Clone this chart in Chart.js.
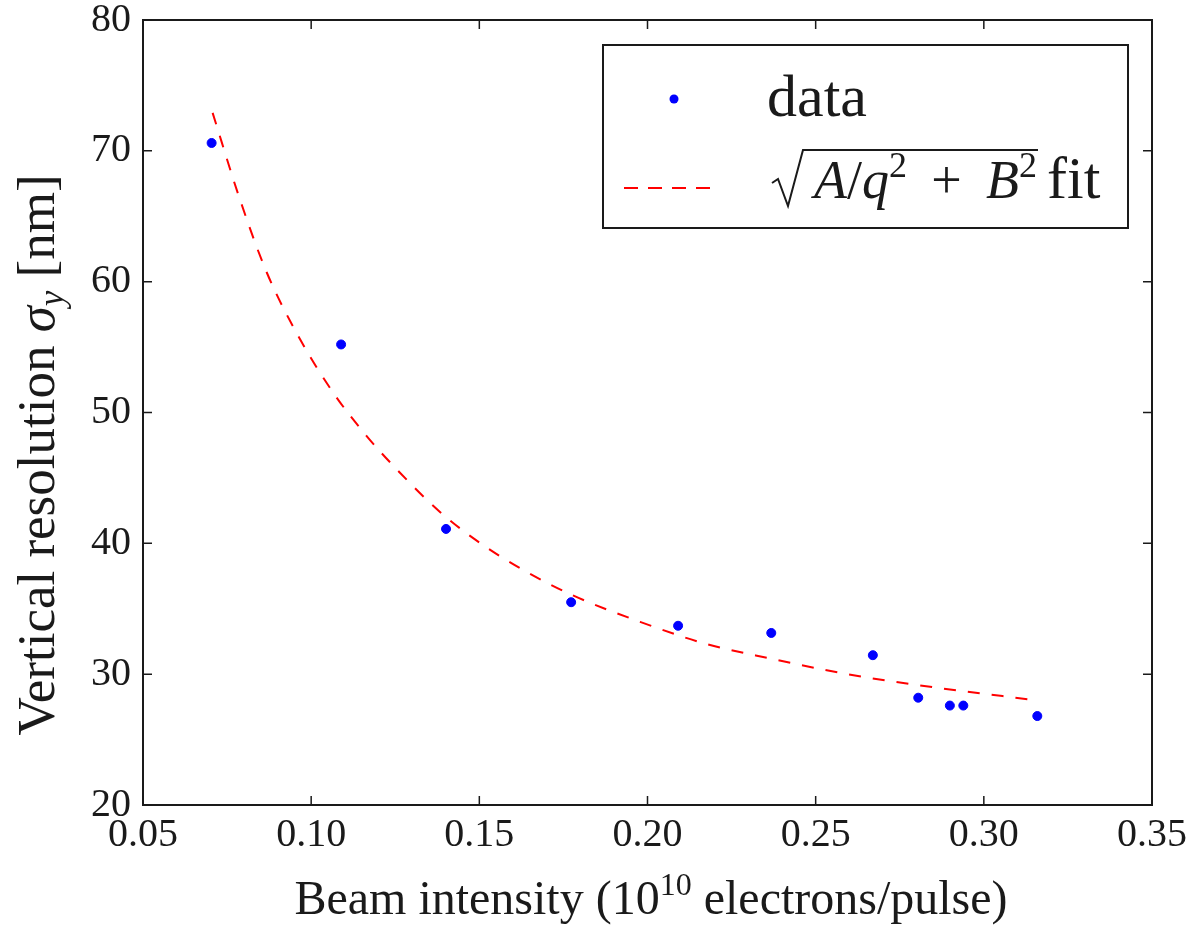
<!DOCTYPE html>
<html>
<head>
<meta charset="utf-8">
<script src="https://cdn.jsdelivr.net/npm/chart.js@4/dist/chart.umd.min.js"></script>
<style>
  body { margin: 0; background: #fff; }
  canvas { display: block; }
</style>
</head>
<body>
<canvas id="resChart" width="1187" height="927"></canvas>
<script>
const beamIntensity = [0.0704, 0.1089, 0.1401, 0.1773, 0.2091, 0.2368, 0.2670, 0.2805, 0.2899, 0.2939, 0.3159];
const resolution = [70.6, 55.2, 41.1, 35.5, 33.7, 33.15, 31.45, 28.2, 27.6, 27.6, 26.8];

// Fit curve sqrt(A/q^2 + B^2), sampled off the figure
const fitX = [0.0707, 0.0788, 0.0868, 0.0967, 0.1066, 0.1165, 0.1264, 0.1383, 0.1487, 0.1621, 0.1780, 0.1978, 0.2176, 0.2374, 0.2533, 0.2652, 0.2850, 0.3157];
const fitY = [72.9, 66.3, 60.7, 55.6, 51.5, 48.2, 45.4, 42.4, 40.3, 38.1, 36.0, 34.0, 32.3, 31.15, 30.3, 29.75, 29.0, 28.0];

const xTicks = [0.05, 0.10, 0.15, 0.20, 0.25, 0.30, 0.35];
const yTicks = [20, 30, 40, 50, 60, 70, 80];

const SERIF = '"Liberation Serif", "DejaVu Serif", serif';
const INK = "#1a1a1a";

// frame + inward ticks + axis titles + legend (math text needs manual drawing)
const decorPlugin = {
  id: "decor",
  afterDraw(chart) {
    const ctx = chart.ctx;
    const a = chart.chartArea;
    const xs = chart.scales.x, ys = chart.scales.y;
    ctx.save();

    ctx.strokeStyle = INK;
    ctx.lineWidth = 2;
    ctx.strokeRect(a.left, a.top, a.right - a.left, a.bottom - a.top);

    ctx.lineWidth = 1.5;
    ctx.beginPath();
    xTicks.forEach(v => {
      const px = xs.getPixelForValue(v);
      ctx.moveTo(px, a.bottom); ctx.lineTo(px, a.bottom - 9);
      ctx.moveTo(px, a.top); ctx.lineTo(px, a.top + 9);
    });
    yTicks.forEach(v => {
      const py = ys.getPixelForValue(v);
      ctx.moveTo(a.left, py); ctx.lineTo(a.left + 9, py);
      ctx.moveTo(a.right, py); ctx.lineTo(a.right - 9, py);
    });
    ctx.stroke();

    ctx.fillStyle = INK;
    ctx.textBaseline = "alphabetic";
    ctx.textAlign = "left";

    // x title: Beam intensity (10^10 electrons/pulse)
    drawRuns(ctx, [
      { t: "Beam intensity (10", s: 48 },
      { t: "10", s: 32, dy: -19 },
      { t: " electrons/pulse)", s: 48 }
    ], 651, 914, "center");

    // y title: Vertical resolution σ_y [nm]
    ctx.save();
    ctx.translate(54, 455);
    ctx.rotate(-Math.PI / 2);
    drawRuns(ctx, [
      { t: "Vertical resolution ", s: 53 },
      { t: "σ", s: 53, it: true },
      { t: "y", s: 35, it: true, dy: 9 },
      { t: " [nm]", s: 53 }
    ], 0, 0, "center");
    ctx.restore();

    // legend box
    ctx.fillStyle = "#fff";
    ctx.fillRect(603, 45, 525, 183);
    ctx.strokeStyle = INK;
    ctx.lineWidth = 2;
    ctx.strokeRect(603, 45, 525, 183);

    ctx.fillStyle = "#0000ff";
    ctx.beginPath();
    ctx.arc(674, 99, 4.5, 0, Math.PI * 2);
    ctx.fill();

    ctx.fillStyle = INK;
    ctx.font = "60px " + SERIF;
    ctx.fillText("data", 767, 116);

    ctx.strokeStyle = "#ff0000";
    ctx.lineWidth = 2;
    ctx.setLineDash([14, 10]);
    ctx.beginPath();
    ctx.moveTo(624, 188); ctx.lineTo(717, 188);
    ctx.stroke();
    ctx.setLineDash([]);

    // radical sign
    ctx.strokeStyle = INK;
    ctx.lineWidth = 2;
    ctx.beginPath();
    ctx.moveTo(772, 183);
    ctx.lineTo(778, 179);
    ctx.lineTo(788, 206);
    ctx.lineTo(803, 150);
    ctx.lineTo(1038, 150);
    ctx.stroke();

    drawRuns(ctx, [
      { t: "A", s: 54, it: true },
      { t: "/", s: 54 },
      { t: "q", s: 54, it: true },
      { t: "2", s: 36, dy: -21 },
      { t: "\u2009 + \u2009", s: 54 },
      { t: "B", s: 54, it: true },
      { t: "2", s: 36, dy: -21 }
    ], 814, 198, "left");
    ctx.font = "60px " + SERIF;
    ctx.fillText("fit", 1047, 198);

    ctx.restore();
  }
};

// draw text pieces one after another (left or centred at x)
function drawRuns(ctx, parts, x, y, align) {
  let total = 0;
  parts.forEach(p => {
    p.f = (p.it ? "italic " : "") + p.s + "px " + SERIF;
    ctx.font = p.f;
    p.w = ctx.measureText(p.t).width;
    total += p.w;
  });
  let cx = align === "left" ? x : x - total / 2;
  parts.forEach(p => {
    ctx.font = p.f;
    ctx.fillText(p.t, cx, y + (p.dy || 0));
    cx += p.w;
  });
}

const ctx = document.getElementById("resChart").getContext("2d");
new Chart(ctx, {
  type: "scatter",
  data: {
    datasets: [
      {
        label: "data",
        data: beamIntensity.map((q, i) => ({ x: q, y: resolution[i] })),
        backgroundColor: "#0000ff",
        borderColor: "#0000ff",
        pointRadius: 4.5,
        pointHoverRadius: 4.5,
        order: 1
      },
      {
        label: "fit",
        type: "line",
        data: fitX.map((q, i) => ({ x: q, y: fitY[i] })),
        borderColor: "#ff0000",
        borderWidth: 2,
        borderDash: [12, 12],
        pointRadius: 0,
        fill: false,
        cubicInterpolationMode: "monotone",
        order: 2
      }
    ]
  },
  options: {
    responsive: false,
    animation: false,
    layout: { padding: { top: 20, right: 35, left: 0, bottom: 0 } },
    plugins: { legend: { display: false }, tooltip: { enabled: false } },
    scales: {
      x: {
        type: "linear",
        min: 0.05,
        max: 0.35,
        afterBuildTicks: s => { s.ticks = xTicks.map(v => ({ value: v })); },
        afterFit: s => { s.height = 122; s.paddingLeft = 0; s.paddingRight = 0; },
        grid: { display: false, drawTicks: false },
        border: { display: false },
        ticks: {
          color: INK,
          padding: 6,
          maxRotation: 0,
          font: { family: SERIF, size: 40 },
          callback: v => v.toFixed(2)
        }
      },
      y: {
        min: 20,
        max: 80,
        afterBuildTicks: s => { s.ticks = yTicks.map(v => ({ value: v })); },
        afterFit: s => { s.width = 143; s.paddingTop = 0; s.paddingBottom = 0; },
        grid: { display: false, drawTicks: false },
        border: { display: false },
        ticks: {
          color: INK,
          padding: 12,
          font: { family: SERIF, size: 40 },
          callback: v => String(v)
        }
      }
    }
  },
  plugins: [decorPlugin]
});
</script>
</body>
</html>
